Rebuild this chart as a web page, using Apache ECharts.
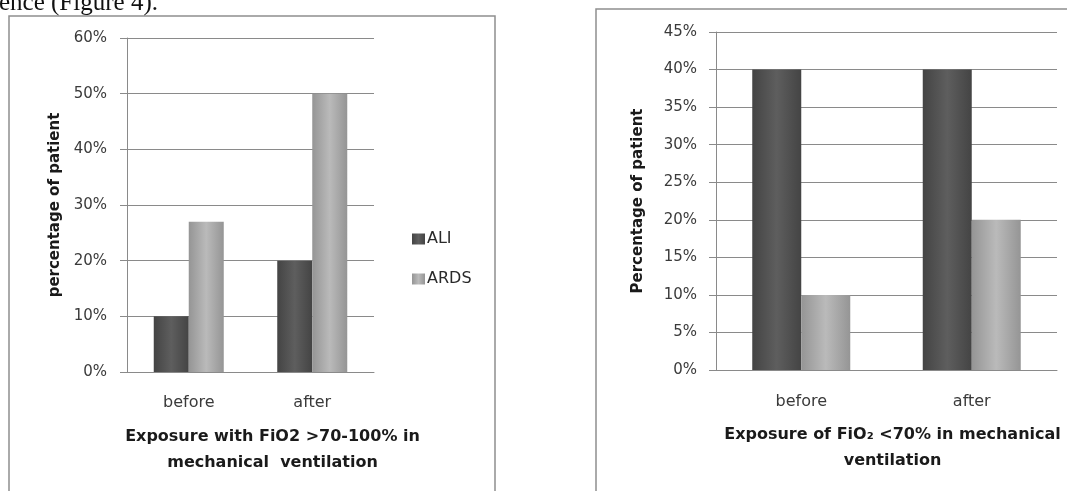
<!DOCTYPE html>
<html>
<head>
<meta charset="utf-8">
<script src="https://cdn.jsdelivr.net/npm/echarts@6/dist/echarts.min.js"></script>
<style>
  html, body { margin: 0; padding: 0; background: #fff; }
  #chart { width: 1067px; height: 491px; }
</style>
</head>
<body>
<div id="chart"></div>
<script>
// Patient groups before / after exposure
const categories = ['before', 'after'];

// FiO2 >70-100% exposure (percent of patients)
const highFio2Ali = [10, 20];
const highFio2Ards = [27, 50];

// FiO2 <70% exposure (percent of patients)
const lowFio2Ali = [40, 40];
const lowFio2Ards = [10, 20];

// Value axis ranges
const highAxis = { min: 0, max: 60, interval: 10 };
const lowAxis = { min: 0, max: 45, interval: 5 };

const LABEL_FONT = 'DejaVu Sans';
const GRID_GRAY = '#8a8a8a';

function barShade(edge, mid) {
  return new echarts.graphic.LinearGradient(0, 0, 1, 0, [
    { offset: 0, color: edge },
    { offset: 0.5, color: mid },
    { offset: 1, color: edge }
  ]);
}
const aliFill = barShade('#444444', '#5e5e5e');
const ardsFill = barShade('#959595', '#bababa');

function valueAxis(gridIndex, range, name, nameGap, labelMargin) {
  return {
    type: 'value',
    gridIndex,
    min: range.min,
    max: range.max,
    interval: range.interval,
    name,
    nameLocation: 'middle',
    nameGap,
    nameTextStyle: { fontFamily: LABEL_FONT, fontWeight: 'bold', fontSize: 15, color: '#1a1a1a' },
    axisLine: { show: true, lineStyle: { color: GRID_GRAY, width: 1 } },
    axisTick: { show: true, length: 7, lineStyle: { color: GRID_GRAY } },
    axisLabel: { formatter: '{value}%', fontFamily: LABEL_FONT, fontSize: 15, color: '#3a3a3a', margin: labelMargin },
    splitLine: { show: true, lineStyle: { color: GRID_GRAY, width: 1 } }
  };
}

function categoryAxis(gridIndex, name, padLeft, labelMargin) {
  return {
    type: 'category',
    gridIndex,
    data: categories,
    name,
    nameLocation: 'middle',
    nameGap: 52,
    nameTextStyle: {
      fontFamily: LABEL_FONT, fontWeight: 'bold', fontSize: 16, color: '#1a1a1a',
      lineHeight: 26, align: 'center', padding: [0, 0, 0, padLeft]
    },
    axisLine: { show: true, lineStyle: { color: GRID_GRAY, width: 1 } },
    axisTick: { show: false },
    axisLabel: { fontFamily: LABEL_FONT, fontSize: 16, color: '#3a3a3a', margin: labelMargin }
  };
}

const chart = echarts.init(document.getElementById('chart'), null, { renderer: 'canvas' });

chart.setOption({
  animation: false,
  backgroundColor: '#ffffff',
  grid: [
    { left: 127, right: 1067 - 374, top: 38, bottom: 491 - 372, containLabel: false },
    { left: 716, right: 1067 - 1057, top: 32, bottom: 491 - 370, containLabel: false }
  ],
  xAxis: [
    categoryAxis(0, 'Exposure with FiO2 >70-100% in\nmechanical  ventilation', 44, 23),
    categoryAxis(1, 'Exposure of FiO\u2082 <70% in mechanical\nventilation', 12, 24)
  ],
  yAxis: [
    valueAxis(0, highAxis, 'percentage of patient', 64, 20),
    valueAxis(1, lowAxis, 'Percentage of patient', 70, 19)
  ],
  legend: {
    data: ['ALI', 'ARDS'],
    orient: 'vertical',
    left: 407,
    top: 226,
    itemWidth: 13,
    itemHeight: 11,
    itemGap: 24,
    icon: 'rect',
    textStyle: { fontFamily: LABEL_FONT, fontSize: 16, color: '#2a2a2a', padding: [0, 0, 0, -3] }
  },
  series: [
    { name: 'ALI', type: 'bar', xAxisIndex: 0, yAxisIndex: 0, data: highFio2Ali,
      barWidth: 35, barGap: '0%', itemStyle: { color: aliFill } },
    { name: 'ARDS', type: 'bar', xAxisIndex: 0, yAxisIndex: 0, data: highFio2Ards,
      barWidth: 35, barGap: '0%', itemStyle: { color: ardsFill } },
    { name: 'ALI', type: 'bar', xAxisIndex: 1, yAxisIndex: 1, data: lowFio2Ali,
      barWidth: 49, barGap: '0%', itemStyle: { color: aliFill } },
    { name: 'ARDS', type: 'bar', xAxisIndex: 1, yAxisIndex: 1, data: lowFio2Ards,
      barWidth: 49, barGap: '0%', itemStyle: { color: ardsFill } }
  ],
  graphic: [
    // frames around the two charts
    { type: 'rect', shape: { x: 9, y: 16, width: 486, height: 500 },
      style: { fill: 'none', stroke: '#8f8f8f', lineWidth: 1.5 }, silent: true, z: -1 },
    { type: 'rect', shape: { x: 596, y: 9, width: 500, height: 500 },
      style: { fill: 'none', stroke: '#8f8f8f', lineWidth: 1.5 }, silent: true, z: -1 },
    // running text of the page above the charts
    { type: 'text', x: -1, y: 16,
      style: { text: 'ence (Figure 4).', font: '25px "Liberation Serif"', fill: '#111', verticalAlign: 'bottom' },
      silent: true }
  ]
});
</script>
</body>
</html>
